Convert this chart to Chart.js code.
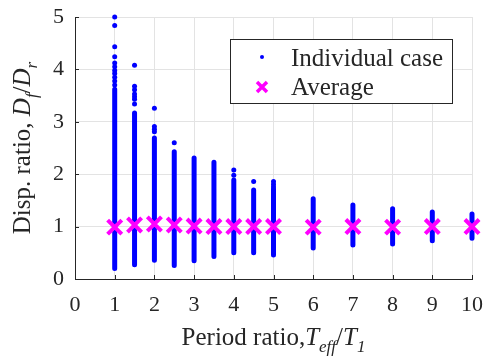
<!DOCTYPE html>
<html>
<head>
<meta charset="utf-8">
<script src="https://cdn.jsdelivr.net/npm/chart.js@4.4.1/dist/chart.umd.min.js"></script>
<style>
  html, body { margin: 0; padding: 0; background: #fff; }
  #wrap { width: 486px; height: 358px; }
</style>
</head>
<body>
<div id="wrap"><canvas id="chart" width="486" height="358"></canvas></div>
<script>
const periodRatios = [1, 1.5, 2, 2.5, 3, 3.5, 4, 4.5, 5, 6, 7, 8, 9, 10];
// dense part of each column of individual cases
const caseMin = [0.2, 0.27, 0.36, 0.26, 0.35, 0.43, 0.5, 0.5, 0.46, 0.59, 0.65, 0.67, 0.73, 0.78];
const caseMax = [3.62, 3.17, 2.69, 2.43, 2.31, 2.23, 1.89, 1.7, 1.72, 1.53, 1.41, 1.34, 1.28, 1.24];
// isolated cases above the dense part
const caseOutliers = [
    [3.7, 3.78, 3.85, 3.92, 3.98, 4.05, 4.12, 4.24, 4.43, 4.84, 5.0],
    [3.34, 3.43, 3.48, 3.53, 3.61, 3.68, 4.08],
    [2.81, 2.86, 2.91, 3.26],
    [2.6],
    [],
    [],
    [1.98, 2.08],
    [1.86],
    [1.76, 1.81, 1.86],
    [], [], [], [], []
];
const averages = [0.99, 1.03, 1.05, 1.03, 1.01, 1.0, 1.0, 1.0, 1.0, 0.99, 1.0, 0.99, 1.0, 1.0];
const xTicks = [0, 1, 2, 3, 4, 5, 6, 7, 8, 9, 10];
const yTicks = [0, 1, 2, 3, 4, 5];
const legendLabels = ['Individual case', 'Average'];

const SERIF = '"Liberation Serif", "Times New Roman", serif';
const BLUE = '#0000ff';
const MAGENTA = '#ff00ff';
const AXIS = '#262626';

const columnData = [];
periodRatios.forEach(function(x, i) {
    columnData.push({x: x, y: caseMin[i]}, {x: x, y: caseMax[i]}, {x: x, y: null});
});
const outlierData = [];
periodRatios.forEach(function(x, i) {
    caseOutliers[i].forEach(function(y) { outlierData.push({x: x, y: y}); });
});
const averageData = periodRatios.map(function(x, i) { return {x: x, y: averages[i]}; });

// draws a run of text pieces (normal / italic / subscript), returns width
function richText(ctx, parts, x, y, measureOnly) {
    let cx = x;
    parts.forEach(function(p) {
        const size = p.sub ? 17 : 25;
        ctx.font = (p.italic ? 'italic ' : '') + size + 'px ' + SERIF;
        if (!measureOnly) ctx.fillText(p.t, cx, y + (p.sub ? 7 : 0));
        cx += ctx.measureText(p.t).width;
    });
    return cx - x;
}

const xTitle = [
    {t: 'Period ratio,'}, {t: 'T', italic: true}, {t: 'eff', italic: true, sub: true},
    {t: '/'}, {t: 'T', italic: true}, {t: '1', italic: true, sub: true}
];
const yTitle = [
    {t: 'Disp. ratio, '}, {t: 'D', italic: true}, {t: 'f', italic: true, sub: true},
    {t: '/'}, {t: 'D', italic: true}, {t: 'r', italic: true, sub: true}
];

const decorations = {
    id: 'decorations',
    beforeDatasetsDraw: function(chart) {
        const ctx = chart.ctx;
        const area = chart.chartArea;
        const xs = chart.scales.x, ys = chart.scales.y;
        ctx.save();
        ctx.strokeStyle = AXIS;
        ctx.lineWidth = 1;
        ctx.beginPath();
        xTicks.forEach(function(v) {
            const px = Math.round(xs.getPixelForValue(v)) + 0.5;
            ctx.moveTo(px, area.bottom);
            ctx.lineTo(px, area.bottom - 4);
        });
        yTicks.forEach(function(v) {
            const py = Math.round(ys.getPixelForValue(v)) + 0.5;
            ctx.moveTo(area.left, py);
            ctx.lineTo(area.left + 4, py);
        });
        ctx.stroke();
        ctx.restore();
    },
    afterDraw: function(chart) {
        const ctx = chart.ctx;
        const area = chart.chartArea;
        ctx.save();
        ctx.fillStyle = AXIS;
        ctx.textBaseline = 'alphabetic';

        // x title
        const wx = richText(ctx, xTitle, 0, 0, true);
        richText(ctx, xTitle, (area.left + area.right) / 2 - wx / 2, 345);

        // y title
        ctx.save();
        ctx.translate(30, (area.top + area.bottom) / 2);
        ctx.rotate(-Math.PI / 2);
        const wy = richText(ctx, yTitle, 0, 0, true);
        richText(ctx, yTitle, -wy / 2, 0);
        ctx.restore();

        // legend
        const lx = 230.5, ly = 39.5, lw = 222, lh = 64;
        ctx.fillStyle = '#ffffff';
        ctx.fillRect(lx, ly, lw, lh);
        ctx.strokeStyle = AXIS;
        ctx.lineWidth = 1;
        ctx.strokeRect(lx, ly, lw, lh);

        ctx.fillStyle = BLUE;
        ctx.beginPath();
        ctx.arc(262, 57, 2, 0, Math.PI * 2);
        ctx.fill();

        ctx.strokeStyle = MAGENTA;
        ctx.lineWidth = 3.5;
        ctx.beginPath();
        ctx.moveTo(257, 82); ctx.lineTo(267, 92);
        ctx.moveTo(267, 82); ctx.lineTo(257, 92);
        ctx.stroke();

        ctx.fillStyle = AXIS;
        ctx.font = '25px ' + SERIF;
        ctx.fillText(legendLabels[0], 291, 66);
        ctx.fillText(legendLabels[1], 291, 95);
        ctx.restore();
    }
};

new Chart(document.getElementById('chart'), {
    type: 'scatter',
    data: {
        datasets: [
            {
                label: legendLabels[1],
                data: averageData,
                order: 0,
                clip: false,
                pointStyle: 'crossRot',
                pointRadius: 10,
                pointBorderWidth: 4,
                borderColor: MAGENTA,
                backgroundColor: MAGENTA
            },
            {
                label: legendLabels[0],
                data: outlierData,
                order: 1,
                clip: false,
                pointRadius: 2.5,
                pointBorderWidth: 0,
                backgroundColor: BLUE,
                borderColor: BLUE
            },
            {
                label: legendLabels[0] + ' range',
                data: columnData,
                order: 2,
                clip: false,
                showLine: true,
                spanGaps: false,
                borderColor: BLUE,
                borderWidth: 5,
                borderCapStyle: 'round',
                pointRadius: 0
            }
        ]
    },
    options: {
        responsive: false,
        animation: false,
        devicePixelRatio: 1,
        layout: { padding: { top: 17, right: 12, left: 0, bottom: 0 } },
        plugins: {
            legend: { display: false },
            tooltip: { enabled: false }
        },
        scales: {
            x: {
                type: 'linear',
                min: 0,
                max: 10,
                afterBuildTicks: function(scale) {
                    scale.ticks = xTicks.map(function(v) { return {value: v}; });
                },
                afterFit: function(scale) {
                    scale.height = 79;
                    scale.paddingLeft = 0;
                    scale.paddingRight = 0;
                },
                ticks: {
                    font: { family: SERIF, size: 22 },
                    color: AXIS,
                    padding: 13,
                    maxRotation: 0
                },
                grid: { color: '#e3e3e3', lineWidth: 1, drawTicks: false },
                border: { color: AXIS, width: 1 }
            },
            y: {
                type: 'linear',
                min: 0,
                max: 5,
                afterBuildTicks: function(scale) {
                    scale.ticks = yTicks.map(function(v) { return {value: v}; });
                },
                afterFit: function(scale) {
                    scale.width = 75;
                    scale.paddingTop = 0;
                    scale.paddingBottom = 0;
                },
                ticks: {
                    font: { family: SERIF, size: 22 },
                    color: AXIS,
                    padding: 11
                },
                grid: { color: '#e3e3e3', lineWidth: 1, drawTicks: false },
                border: { color: AXIS, width: 1 }
            }
        }
    },
    plugins: [decorations]
});
</script>
</body>
</html>
